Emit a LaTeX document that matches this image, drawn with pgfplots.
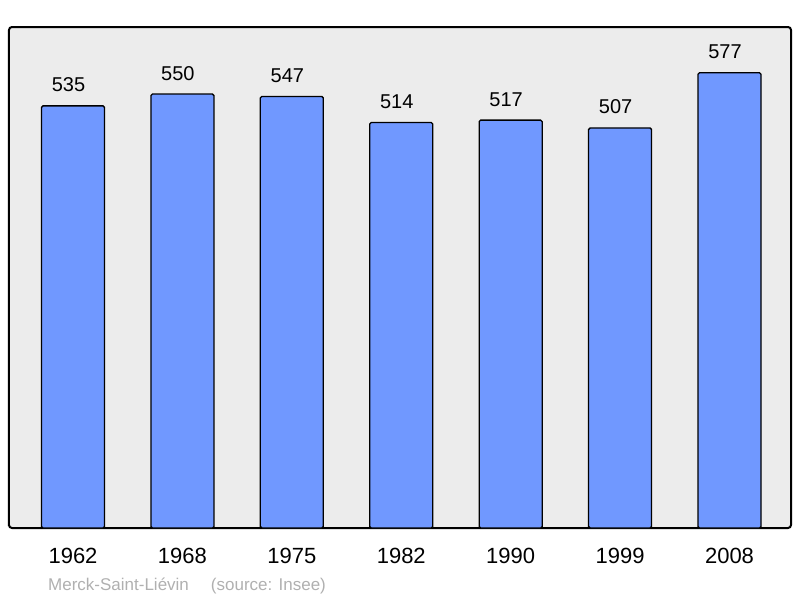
\documentclass[border=0pt]{standalone}
\usepackage{pgfplots}
\pgfplotsset{compat=1.18}
\usepackage{fontspec}
\setmainfont{Liberation Sans}
\definecolor{barblue}{HTML}{7098FF}
\definecolor{bggray}{HTML}{ECECEC}
\definecolor{footgray}{HTML}{B0B0B0}
\begin{document}
\begin{tikzpicture}[x=1pt,y=1pt]
\path[use as bounding box] (0,0) rectangle (800,598);
\begin{axis}[
  at={(9pt,70pt)}, anchor=south west,
  scale only axis, width=782pt, height=501pt,
  xmin=-0.585, xmax=6.562, ymin=0, ymax=635,
  axis background/.style={fill=bggray},
  axis line style={line width=2pt, rounded corners=3pt},
  ybar, bar width=63pt,
  xtick=data,
  xticklabels={1962,1968,1975,1982,1990,1999,2008},
  xtick style={draw=none},
  ytick=\empty,
  xticklabel style={anchor=base, yshift=-31pt, font=\fontsize{22}{24}\selectfont},
  nodes near coords,
  every node near coord/.append style={anchor=base, yshift=14pt, xshift=-4.5pt, font=\fontsize{20}{22}\selectfont, black},
  /pgf/number format/assume math mode=true,
  clip=false,
]
\addplot[fill=barblue, draw=black, line width=1.3pt, rounded corners=1.5pt] coordinates {
(0,535) (1,550) (2,547) (3,514) (4,517) (5,507) (6,577)};
\end{axis}
\node[anchor=base west, inner sep=0, text=footgray, font=\fontsize{17}{19}\selectfont] at (48pt,8pt) {Merck-Saint-Liévin\hspace{22pt}(source: Insee)};
\end{tikzpicture}
\end{document}
